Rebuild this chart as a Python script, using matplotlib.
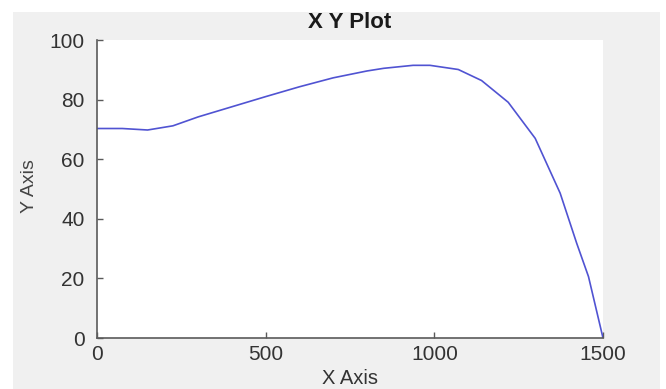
import numpy as np
import matplotlib
matplotlib.use('Agg')
import matplotlib.pyplot as plt
from matplotlib.patches import Rectangle

plt.rcParams['font.family'] = ['Liberation Sans', 'DejaVu Sans']

# data
x = [0, 75, 150, 225, 300, 400, 500, 600, 700, 800, 850, 937, 987,
     1071, 1140, 1219, 1299, 1373, 1422, 1457, 1500]
y = [70.3, 70.3, 69.8, 71.2, 74.2, 77.6, 81.0, 84.3, 87.3, 89.6, 90.5, 91.5, 91.5,
     90.1, 86.4, 79.1, 67.0, 48.6, 31.8, 20.6, 0.0]
xticks = [0, 500, 1000, 1500]
yticks = [0, 20, 40, 60, 80, 100]

W, H = 666, 389
fig = plt.figure(figsize=(W / 100, H / 100), dpi=100)
fig.patch.set_facecolor('white')
# grey matlab-like window background
fig.patches.append(Rectangle((13 / W, 0), 647 / W, 377 / H, transform=fig.transFigure,
                             facecolor='#f0f0f0', edgecolor='none', zorder=-1))

ax = fig.add_axes([97 / W, 1 - 338 / H, 506 / W, 298 / H])
ax.set_facecolor('white')
ax.plot(x, y, color='#5053d2', lw=1.2)

ax.set_xlim(0, 1500)
ax.set_ylim(0, 100)
ax.set_xticks(xticks)
ax.set_yticks(yticks)
for s in ['top', 'right']:
    ax.spines[s].set_visible(False)
for s in ['left', 'bottom']:
    ax.spines[s].set_color('#5a5a5a')
    ax.spines[s].set_linewidth(1.2)
ax.tick_params(direction='in', length=4, width=1, color='#5a5a5a',
               labelsize=15, labelcolor='#333333')
ax.tick_params(axis='y', pad=9)
ax.tick_params(axis='x', pad=5)

fig.text(350 / W, 1 - 23 / H, 'X Y Plot', ha='center', va='center',
         fontsize=16, fontweight='bold', color='#1a1a1a')
fig.text(30 / W, 1 - 186 / H, 'Y Axis', ha='center', va='center', rotation=90,
         fontsize=14, color='#444444')
fig.text(350 / W, 1 - 378 / H, 'X Axis', ha='center', va='center',
         fontsize=14.5, color='#333333')

fig.savefig('out.png', dpi=100)
